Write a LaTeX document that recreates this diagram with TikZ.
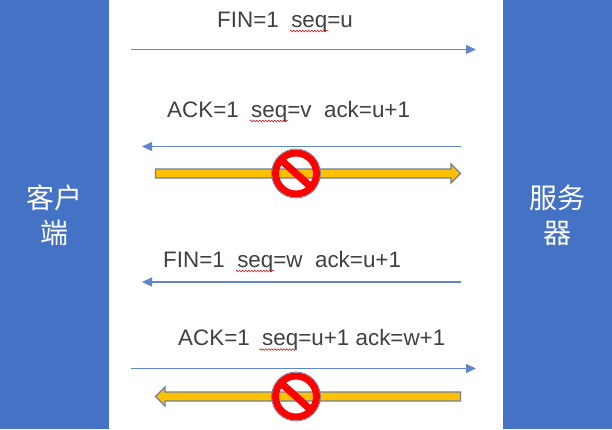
\documentclass[tikz,border=0pt]{standalone}
\usepackage{fontspec}
\setmainfont{Liberation Sans}
\newfontfamily\cjk{Noto Sans CJK SC}
\usetikzlibrary{arrows.meta,decorations.pathmorphing}
\definecolor{bluefill}{HTML}{4472C4}
\definecolor{yel}{HTML}{FFC000}
\definecolor{edgeb}{HTML}{6F7F9F}
\definecolor{txt}{HTML}{404040}
\tikzset{
  x=1bp,y=-1bp,
  sidebox/.style={fill=bluefill,inner sep=0},
  sidelabel/.style={text=white,font=\cjk\fontsize{28bp}{35bp}\selectfont,align=center},
  msg/.style={text=txt,font=\fontsize{22.4bp}{26bp}\selectfont,anchor=base west,inner sep=0},
  flow/.style={draw=bluefill!85!white,line width=1.1bp,-{Triangle[length=10bp,width=9bp]}},
  blockarrow/.style={fill=yel,draw=edgeb,line width=1.1bp,line join=miter},
  squig/.style={draw=red!80!black,line width=.45bp,decorate,decoration={zigzag,amplitude=.9bp,segment length=3bp}}
}
\newcommand{\nosign}[1]{%
  \begin{scope}[shift={#1}]
    \fill[red,even odd rule] (0,0) circle (24) (0,0) circle (17);
    \fill[red,rotate=-42] (-18,-3.6) rectangle (18,3.6);
    \draw[edgeb,line width=.7bp] (0,0) circle (24.5);
  \end{scope}}
\begin{document}
\begin{tikzpicture}
\useasboundingbox (0,0) rectangle (612,429);
\fill[white] (0,0) rectangle (612,429);
\path[sidebox] (0,0) rectangle (109,429);
\path[sidebox] (503,0) rectangle (612,429);
\node[sidelabel] (client) at (54.5,215) {客户\\端};
\node[sidelabel] (server) at (557.5,215) {服务\\器};

\coordinate (a1) at (131,49.5); \coordinate (b1) at (476,49.5);
\coordinate (a2) at (461,146.5); \coordinate (b2) at (142,146.5);
\coordinate (a3) at (461,282); \coordinate (b3) at (142,282);
\coordinate (a4) at (131,368.5); \coordinate (b4) at (476,368.5);
\draw[flow] (a1) -- (b1);
\draw[flow] (a2) -- (b2);
\draw[flow] (a3) -- (b3);
\draw[flow] (a4) -- (b4);

\node[msg] (m1) at (217,27) {FIN=1\ \ seq=u};
\node[msg] (m2) at (167,117) {ACK=1\ \ seq=v\ \ ack=u+1};
\node[msg] (m3) at (163,267) {FIN=1\ \ seq=w\ \ ack=u+1};
\node[msg] (m4) at (178,345) {ACK=1\ \ seq=u+1 ack=w+1};
\coordinate (s1a) at (290,31); \coordinate (s1b) at (329,31);
\coordinate (s2a) at (250,121); \coordinate (s2b) at (288,121);
\coordinate (s3a) at (236,271); \coordinate (s3b) at (274,271);
\coordinate (s4a) at (259,349.5); \coordinate (s4b) at (297,349.5);
\draw[squig] (s1a) -- (s1b);
\draw[squig] (s2a) -- (s2b);
\draw[squig] (s3a) -- (s3b);
\draw[squig] (s4a) -- (s4b);

\path[blockarrow] (155.5,169) -- (451,169) -- (451,164) -- (460.5,173.5) -- (451,183) -- (451,178) -- (155.5,178) -- cycle;
\path[blockarrow] (460.5,392) -- (165,392) -- (165,387) -- (155.5,396.5) -- (165,406) -- (165,401) -- (460.5,401) -- cycle;
\nosign{(296,173.5)}
\nosign{(296,396.5)}
\end{tikzpicture}
\end{document}
